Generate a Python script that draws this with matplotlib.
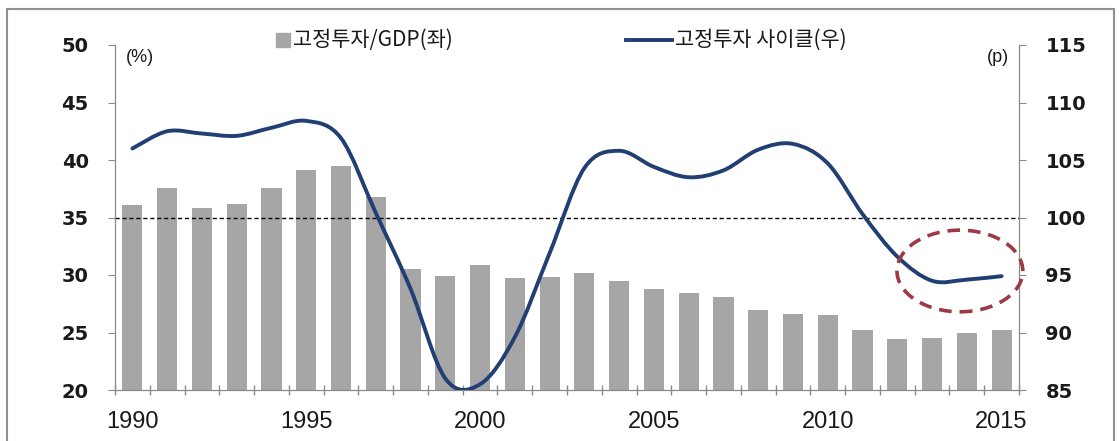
import numpy as np
import matplotlib
matplotlib.use("Agg")
import matplotlib.pyplot as plt
from matplotlib.path import Path
from matplotlib.patches import PathPatch, Ellipse, Rectangle
from matplotlib.lines import Line2D

plt.rcParams['font.family'] = ['Noto Sans CJK KR', 'DejaVu Sans']

years = list(range(1990, 2016))
invest_gdp = [36.1, 37.6, 35.8, 36.2, 37.6, 39.1, 39.5, 36.8, 30.5, 29.9,
              30.9, 29.7, 29.8, 30.2, 29.5, 28.8, 28.4, 28.1, 27.0, 26.6,
              26.5, 25.2, 24.4, 24.5, 25.0, 25.2]
invest_cycle = [106.0, 107.5, 107.3, 107.1, 107.8, 108.4, 106.9, 100.4, 93.8, 86.0,
                85.5, 89.6, 96.9, 104.3, 105.8, 104.4, 103.5, 104.1, 105.9, 106.4,
                104.7, 100.3, 96.6, 94.5, 94.6, 94.9]
year_labels = ['1990', '1995', '2000', '2005', '2010', '2015']
bar_name = '고정투자/GDP(좌)'
line_name = '고정투자 사이클(우)'

W, H = 1119, 441
fig = plt.figure(figsize=(W / 100, H / 100), dpi=100)

def fx(px):
    return px / W

def fy(py):
    return 1 - py / H

ax = fig.add_axes([fx(115), fy(390), fx(1019) - fx(115), fy(45) - fy(390)])
ax2 = ax.twinx()

x = np.arange(len(years))
bar_color = '#A6A6A6'
line_color = '#213F72'
axis_color = '#8A8A8A'

ax.bar(x, invest_gdp, width=0.58, color=bar_color, zorder=2)
ax.axhline(35, color='black', lw=1.0, ls=(0, (3, 2)), zorder=3)

ax.set_xlim(-0.5, len(years) - 0.5)
ax.set_ylim(20, 50)
ax.set_yticks(np.arange(20, 51, 5))
ax2.set_ylim(85, 115)
ax2.set_yticks(np.arange(85, 116, 5))

# category boundaries as major ticks, year labels on minor ticks
ax.set_xticks(np.arange(-0.5, len(years), 1.0))
ax.set_xticklabels([])
ax.set_xticks([years.index(int(y)) for y in year_labels], minor=True)
ax.set_xticklabels(year_labels, minor=True,
                   family=['Liberation Sans', 'DejaVu Sans'],
                   fontsize=17, color='#1a1a1a')
ax.tick_params(axis='x', which='major', direction='inout', length=7, color=axis_color, width=1)
ax.tick_params(axis='x', which='minor', length=0, pad=15)

for a in (ax, ax2):
    for s in a.spines.values():
        s.set_color(axis_color)
    a.spines['top'].set_visible(False)

ax.tick_params(axis='y', direction='out', length=5, color=axis_color, pad=14)
ax2.tick_params(axis='y', direction='out', length=5, color=axis_color, pad=14)
for lab in ax.get_yticklabels() + ax2.get_yticklabels():
    lab.set_family('DejaVu Sans')
    lab.set_fontweight('bold')
    lab.set_fontsize(14)
    lab.set_color('#1a1a1a')

# smoothed cycle line (cubic Bezier through the yearly points)
pts = np.column_stack([x, invest_cycle]).astype(float)
n = len(pts)
verts = [pts[0]]
codes = [Path.MOVETO]
for i in range(n - 1):
    p_prev = pts[i - 1] if i > 0 else pts[i]
    p_next2 = pts[i + 2] if i + 2 < n else pts[i + 1]
    c1 = pts[i] + (pts[i + 1] - p_prev) / 6.0
    c2 = pts[i + 1] - (p_next2 - pts[i]) / 6.0
    verts += [c1, c2, pts[i + 1]]
    codes += [Path.CURVE4] * 3
ax2.add_patch(PathPatch(Path(verts, codes), fill=False, edgecolor=line_color,
                        lw=2.8, capstyle='round', zorder=4))

ax2.add_patch(Ellipse((23.8, 95.35), 3.62, 7.1, fill=False, edgecolor='#9B3A44',
                      lw=2.6, ls=(0, (3.5, 2.2)), clip_on=False, zorder=5))

# unit labels
fig.text(fx(140), fy(57), '(%)', ha='center', va='center', fontsize=13,
         family=['Liberation Sans', 'DejaVu Sans'], color='#1a1a1a')
fig.text(fx(998), fy(58), '(p)', ha='center', va='center', fontsize=13,
         family=['Liberation Sans', 'DejaVu Sans'], color='#1a1a1a')

# legend
fig.patches.append(Rectangle((fx(276), fy(47)), fx(14), fy(33) - fy(47),
                             transform=fig.transFigure, color=bar_color))
fig.text(fx(293), fy(40), bar_name, ha='left', va='center', fontsize=15, color='#1a1a1a')
fig.lines.append(Line2D([fx(626), fx(672)], [fy(40), fy(40)], transform=fig.transFigure,
                        color=line_color, lw=2.8))
fig.text(fx(675), fy(40), line_name, ha='left', va='center', fontsize=15, color='#1a1a1a')

# outer frame (bottom edge runs below the canvas)
fig.patches.append(Rectangle((fx(7), fy(460)), fx(1114) - fx(7), fy(9) - fy(460),
                             transform=fig.transFigure, fill=False,
                             edgecolor='#909090', lw=1.5))

fig.savefig('out.png', dpi=100)
